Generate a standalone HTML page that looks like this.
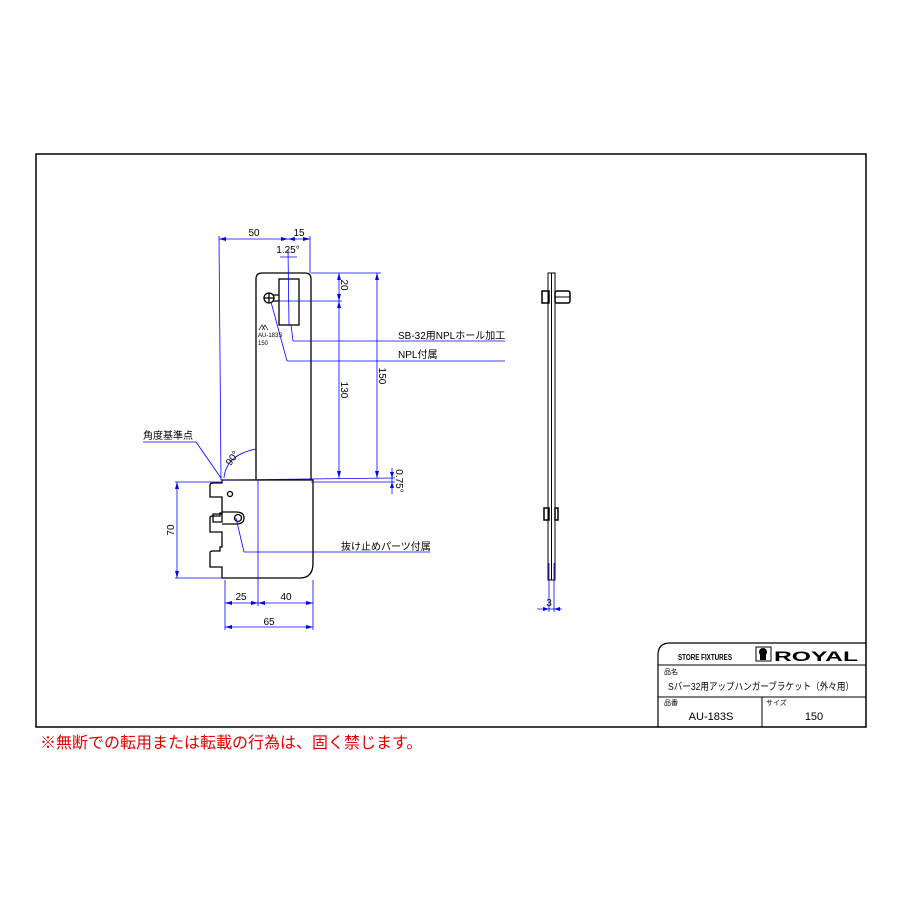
<!DOCTYPE html>
<html><head><meta charset="utf-8"><style>
body{margin:0;background:#fff;width:900px;height:900px;overflow:hidden;font-family:"Liberation Sans","Noto Sans CJK JP",sans-serif}
svg{position:absolute;left:0;top:0}
</style></head><body>
<svg width="900" height="900" viewBox="0 0 900 900" font-family="Liberation Sans, Noto Sans CJK JP, sans-serif">
<rect x="36" y="154" width="830" height="573" fill="none" stroke="#000" stroke-width="1.5"/>
<!-- title block -->
<path d="M658 727 V655 Q658 643 670 643 H866" fill="none" stroke="#000" stroke-width="1.2"/>
<line x1="658" y1="665" x2="866" y2="665" stroke="#000"/>
<line x1="658" y1="697" x2="866" y2="697" stroke="#000"/>
<line x1="762" y1="697" x2="762" y2="727" stroke="#000"/>
<text x="678" y="660" font-size="8" font-weight="bold" textLength="54" lengthAdjust="spacingAndGlyphs">STORE FIXTURES</text>
<rect x="756" y="647" width="15" height="14" fill="none" stroke="#000"/>
<circle cx="763" cy="652" r="4" fill="#000"/>
<rect x="760" y="654" width="6" height="6" fill="#000"/>
<text x="774" y="661" font-size="14" font-weight="bold" textLength="84" lengthAdjust="spacingAndGlyphs">ROYAL</text>
<text x="664" y="674" font-size="7">品名</text>
<text x="668" y="690" font-size="10" textLength="186" lengthAdjust="spacingAndGlyphs">Sバー32用アップハンガーブラケット（外々用）</text>
<text x="664" y="705" font-size="7">品番</text>
<text x="766" y="705" font-size="7">サイズ</text>
<text x="711" y="720" font-size="11" text-anchor="middle">AU-183S</text>
<text x="814" y="720" font-size="11" text-anchor="middle">150</text>
<text x="40" y="748" font-size="16" fill="#e00000">※無断での転用または転載の行為は、固く禁じます。</text>

<!-- bracket -->
<g fill="none" stroke="#000" stroke-width="1.3">
<path d="M256 480 V279 Q256 273 262 273 H305 Q311 273 311 279 V480"/>
<path d="M222 480 H313 V563 Q313 578 300 578 H222 V567 H210 V553 Q210 551 213 551 H220 V547 H222 V532 H210 V518 Q210 516 213 516 H220 V513 H222 V497 H210 V485 Q210 483 213 483 H222 Z"/>
<rect x="279" y="279" width="20" height="46"/>
<circle cx="269" cy="298" r="5"/>
<path d="M264 298 h10 M269 293 v10"/>
<path d="M273 295 h6 M273 301 h6"/>
<circle cx="230" cy="494" r="2.5"/>
<path d="M222 512 h14 q8 0 8 6 q0 6 -8 6 h-14 M213 514 h9 v8 h-9 z"/>
<circle cx="238" cy="518" r="3.5"/>
</g>
<text x="258" y="337" font-size="6">AU-183S</text>
<text x="258" y="345" font-size="6">150</text>
<path d="M259 330 l3 -5 l3 5 M262 330 l3 -5 l3 5" fill="none" stroke="#000" stroke-width="0.7"/>

<!-- dims blue -->
<g stroke="#0000ff" stroke-width="0.8" fill="none">
<line x1="219" y1="239" x2="310" y2="239"/>
<line x1="219" y1="236" x2="221" y2="480"/>
<line x1="310" y1="236" x2="310" y2="273"/>
<line x1="288" y1="250" x2="289" y2="325"/>
<line x1="280" y1="257" x2="297" y2="257"/>
<line x1="291" y1="325" x2="293" y2="341"/><line x1="293" y1="341" x2="505" y2="341"/>
<line x1="271" y1="302" x2="287" y2="361"/><line x1="287" y1="361" x2="505" y2="361"/>
<line x1="311" y1="273" x2="381" y2="273"/>
<line x1="279" y1="301" x2="342" y2="301"/>
<line x1="339" y1="273" x2="339" y2="478"/>
<line x1="377" y1="273" x2="377" y2="478"/>
<line x1="222" y1="480" x2="395" y2="478"/>
<line x1="311" y1="482" x2="395" y2="482"/>
<line x1="392" y1="468" x2="392" y2="494"/>
<line x1="143" y1="442" x2="196" y2="442"/><line x1="196" y1="442" x2="221" y2="478"/>
<path d="M224 478 Q226 455 256 449"/>
<line x1="175" y1="482" x2="222" y2="482"/>
<line x1="175" y1="578" x2="222" y2="578"/>
<line x1="177" y1="482" x2="177" y2="578"/>
<line x1="258" y1="480" x2="258" y2="606"/>
<line x1="225" y1="580" x2="225" y2="630"/>
<line x1="313" y1="580" x2="313" y2="630"/>
<line x1="225" y1="603" x2="313" y2="603"/>
<line x1="225" y1="627" x2="313" y2="627"/>
<line x1="236" y1="518" x2="244" y2="552"/><line x1="244" y1="552" x2="430" y2="552"/>
<line x1="549" y1="563" x2="549" y2="612"/><line x1="554" y1="563" x2="554" y2="612"/>
<line x1="537" y1="609" x2="562" y2="609"/>
</g>
<g fill="#0000ff">
<path d="M219 239 l7 -2 v4z M288 239 l-7 -2 v4z M288 239 l7 -2 v4z M310 239 l-7 -2 v4z"/>
<path d="M339 273 l-2 7 h4z M339 301 l-2 -7 h4z M339 301 l-2 7 h4z M339 478 l-2 -7 h4z"/>
<path d="M377 273 l-2 7 h4z M377 478 l-2 -7 h4z M392 478 l-2 -6 h4z M392 482 l-2 6 h4z"/>
<path d="M177 482 l-2 7 h4z M177 578 l-2 -7 h4z"/>
<path d="M225 603 l7 -2 v4z M258 603 l-7 -2 v4z M258 603 l7 -2 v4z M313 603 l-7 -2 v4z M225 627 l7 -2 v4z M313 627 l-7 -2 v4z"/>
<path d="M549 609 l-6 -2 v4z M554 609 l6 -2 v4z"/>
</g>
<g font-size="10" fill="#000">
<text x="254" y="236" text-anchor="middle">50</text>
<text x="299" y="236" text-anchor="middle">15</text>
<text x="288" y="253" text-anchor="middle">1.25°</text>
<text transform="translate(341,285) rotate(90)" text-anchor="middle">20</text>
<text transform="translate(341,390) rotate(90)" text-anchor="middle">130</text>
<text transform="translate(379,376) rotate(90)" text-anchor="middle">150</text>
<text transform="translate(396,481) rotate(90)" text-anchor="middle">0.75°</text>
<text transform="translate(235,460) rotate(-55)" text-anchor="middle">90°</text>
<text transform="translate(174,530) rotate(-90)" text-anchor="middle">70</text>
<text x="241" y="600" text-anchor="middle">25</text>
<text x="286" y="600" text-anchor="middle">40</text>
<text x="269" y="625" text-anchor="middle">65</text>
<text x="143" y="439">角度基準点</text>
<text x="398" y="339">SB-32用NPLホール加工</text>
<text x="398" y="358">NPL付属</text>
<text x="341" y="550">抜け止めパーツ付属</text>
<text x="549" y="606" text-anchor="middle">3</text>
</g>
<!-- side view -->
<g fill="none" stroke="#000" stroke-width="1">
<rect x="548" y="273" width="7" height="307"/>
<line x1="551.5" y1="273" x2="551.5" y2="580"/>
<rect x="542" y="291" width="7" height="12" stroke-width="1.5"/>
<rect x="555" y="291" width="15" height="12" rx="2" stroke-width="1.5"/>
<line x1="555" y1="297" x2="570" y2="297"/>
<rect x="544" y="508" width="5" height="12" stroke-width="1.5"/>
<rect x="555" y="508" width="3" height="12" stroke-width="1.5"/>
</g>
</svg>
</body></html>
